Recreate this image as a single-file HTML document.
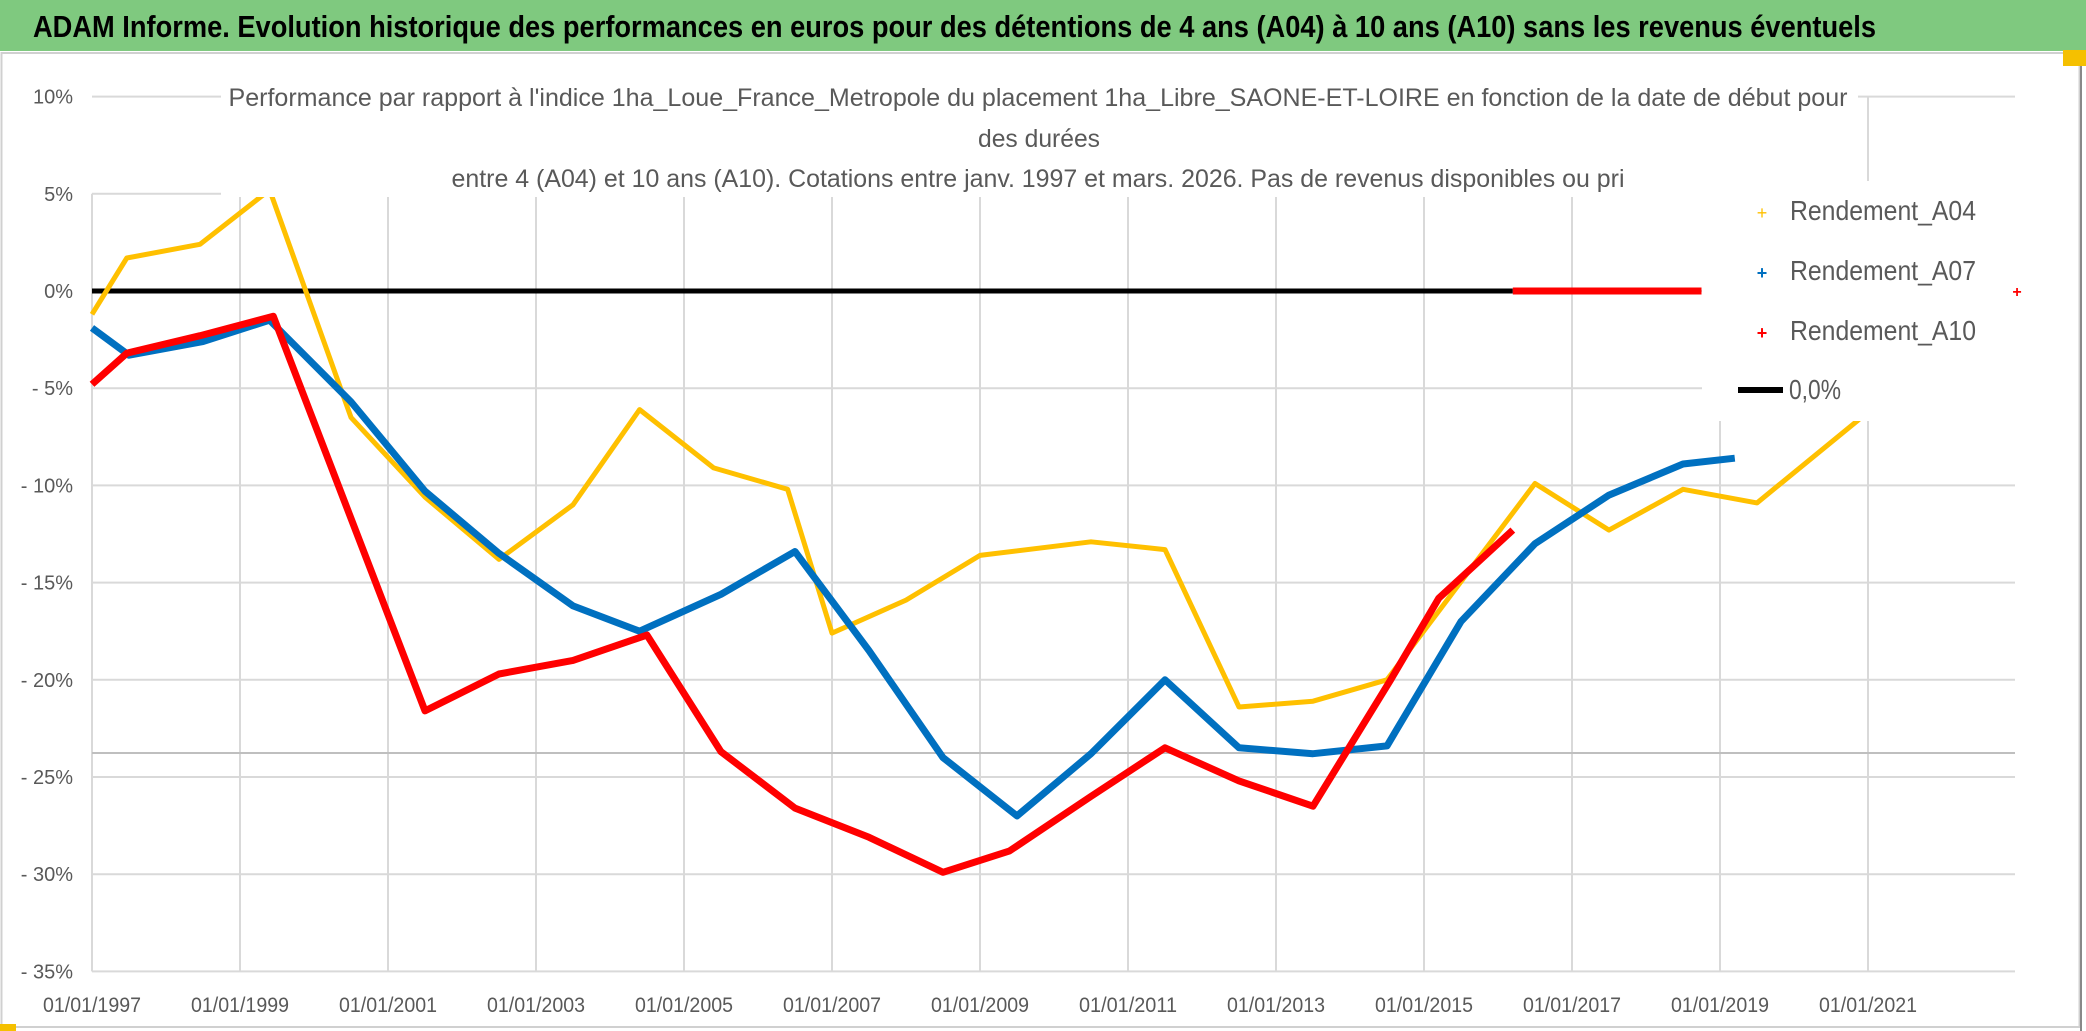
<!DOCTYPE html>
<html><head><meta charset="utf-8"><style>
html,body{margin:0;padding:0;background:#fff;width:2086px;height:1031px;overflow:hidden}
svg{display:block;font-family:"Liberation Sans",sans-serif}
</style></head><body>
<svg id="chart" width="2086" height="1031" viewBox="0 0 2086 1031">
<rect x="0" y="0" width="2086" height="51" fill="#7fc97f"/>
<text x="33" y="37" font-size="31" font-weight="bold" fill="#000" textLength="1843" lengthAdjust="spacingAndGlyphs">ADAM Informe. Evolution historique des performances en euros pour des détentions de 4 ans (A04) à 10 ans (A10) sans les revenus éventuels</text>
<rect x="1.5" y="53" width="2078" height="974" fill="none" stroke="#d0d0d0" stroke-width="2"/>
<line x1="2081" y1="52" x2="2081" y2="1031" stroke="#888" stroke-width="2"/>
<rect x="2063" y="50" width="23" height="16" fill="#f5c000"/>
<rect x="0" y="1024" width="16" height="7" fill="#f5c000"/>
<g id="grid"></g>
<line x1="92" y1="753" x2="2015" y2="753" stroke="#bfbfbf" stroke-width="2"/>
<g id="ylabels" font-size="20" fill="#595959" text-anchor="end"></g>
<g id="xlabels" font-size="21" fill="#595959" text-anchor="middle"></g>
<g id="series"></g>
<rect x="221" y="80" width="1637" height="117" fill="#fff"/>
<g font-size="25" fill="#595959" text-anchor="middle">
<text x="1038" y="106" textLength="1619" lengthAdjust="spacingAndGlyphs">Performance par rapport à l'indice 1ha_Loue_France_Metropole  du placement 1ha_Libre_SAONE-ET-LOIRE en fonction de la date de début pour</text>
<text x="1039" y="147" textLength="122" lengthAdjust="spacingAndGlyphs">des durées</text>
<text x="1038" y="187" textLength="1173" lengthAdjust="spacingAndGlyphs">entre 4 (A04) et 10 ans (A10). Cotations entre janv. 1997 et mars. 2026. Pas de revenus disponibles ou pri</text>
</g>
<rect x="1702" y="181" width="313" height="240" fill="#fff"/>
<g font-size="28" fill="#595959">
<g><text x="1762" y="219" fill="#ffc000" font-size="18" text-anchor="middle">+</text><text x="1790" y="220" textLength="186" lengthAdjust="spacingAndGlyphs">Rendement_A04</text></g>
<g><text x="1762" y="279" fill="#0070c0" font-size="18" text-anchor="middle" font-weight="bold">+</text><text x="1790" y="280" textLength="186" lengthAdjust="spacingAndGlyphs">Rendement_A07</text></g>
<g><text x="1762" y="339" fill="#ff0000" font-size="18" text-anchor="middle" font-weight="bold">+</text><text x="1790" y="340" textLength="186" lengthAdjust="spacingAndGlyphs">Rendement_A10</text></g>
<g><line x1="1738" y1="390" x2="1783" y2="390" stroke="#000" stroke-width="6"/><text x="1789" y="399" textLength="52" lengthAdjust="spacingAndGlyphs">0,0%</text></g>
</g>
<text x="2017" y="297" fill="#ff0000" font-size="16" font-weight="bold" text-anchor="middle">+</text>
</svg>
<script>
const yTicks=[10,5,0,-5,-10,-15,-20,-25,-30,-35];
const yTickLabels=["10%","5%","0%","- 5%","- 10%","- 15%","- 20%","- 25%","- 30%","- 35%"];
const xTickYears=[1997,1999,2001,2003,2005,2007,2009,2011,2013,2015,2017,2019,2021];
const xTickLabels=["01/01/1997","01/01/1999","01/01/2001","01/01/2003","01/01/2005","01/01/2007","01/01/2009","01/01/2011","01/01/2013","01/01/2015","01/01/2017","01/01/2019","01/01/2021"];
const a04Years=[1997.0,1997.47,1998.46,1999.4,2000.5,2001.5,2002.5,2003.5,2004.4,2005.4,2006.4,2007.0,2008.0,2009.0,2010.5,2011.5,2012.5,2013.5,2014.5,2016.5,2017.5,2018.5,2019.5,2020.85,2021.5];
const a04Values=[-1.2,1.7,2.4,5.2,-6.5,-10.6,-13.8,-11,-6.1,-9.1,-10.2,-17.6,-15.9,-13.6,-12.9,-13.3,-21.4,-21.1,-20,-9.9,-12.3,-10.2,-10.9,-6.7,-4.5];
const a07Years=[1997.0,1997.5,1998.5,1999.4,2000.5,2001.5,2002.5,2003.5,2004.4,2005.5,2006.5,2007.5,2008.5,2009.5,2010.5,2011.5,2012.5,2013.5,2014.5,2015.5,2016.5,2017.5,2018.5,2019.2];
const a07Values=[-1.9,-3.3,-2.6,-1.5,-5.7,-10.3,-13.5,-16.2,-17.5,-15.6,-13.4,-18.5,-24,-27,-23.8,-20.0,-23.5,-23.8,-23.4,-17,-13,-10.5,-8.9,-8.6];
const a10Years=[1997.0,1997.47,1998.46,1999.45,2001.5,2002.5,2003.5,2004.5,2005.5,2006.5,2007.5,2008.5,2009.4,2010.5,2011.5,2012.5,2013.5,2014.55,2015.2,2016.2];
const a10Values=[-4.8,-3.2,-2.3,-1.3,-21.6,-19.7,-19,-17.7,-23.7,-26.6,-28.1,-29.9,-28.8,-26,-23.5,-25.2,-26.5,-20,-15.8,-12.3];
const a10ZeroYears=[2016.2,2018.75];
const a10ZeroValues=[0,0];
const zeroYears=[1997,2016.2];
const zeroValues=[0,0];

const X0=92, PX_PER_YEAR=74, Y0=291, PX_PER_PCT=19.44;
function xs(yr){return X0+(yr-1997)*PX_PER_YEAR;}
function ys(v){return Y0-v*PX_PER_PCT;}
const NS="http://www.w3.org/2000/svg";
function mk(tag,attrs,parent){const e=document.createElementNS(NS,tag);for(const k in attrs)e.setAttribute(k,attrs[k]);parent.appendChild(e);return e;}
const grid=document.getElementById('grid');
yTicks.forEach((t,i)=>{
  const l=mk('line',{x1:X0,x2:2015,y1:ys(t),y2:ys(t),stroke:'#d9d9d9','stroke-width':2},grid);
  
  
  const tx=mk('text',{x:73,y:ys(t)+7},document.getElementById('ylabels'));
  tx.textContent=yTickLabels[i];
  
  
});
mk('line',{x1:X0,x2:X0,y1:ys(5),y2:ys(-35),stroke:'#d9d9d9','stroke-width':2},grid);
xTickYears.forEach((yr,i)=>{
  if(i>0){const l=mk('line',{x1:xs(yr),x2:xs(yr),y1:ys(10),y2:ys(-35),stroke:'#d9d9d9','stroke-width':2},grid);
  
  }
  const tx=mk('text',{x:xs(yr),y:1012,textLength:98,lengthAdjust:'spacingAndGlyphs'},document.getElementById('xlabels'));
  tx.textContent=xTickLabels[i];
  
  
});
const series=document.getElementById('series');
function line(years,vals,color,w,name){
  const pts=years.map((y,i)=>xs(y).toFixed(1)+','+ys(vals[i]).toFixed(1)).join(' ');
  const p=mk('polyline',{points:pts,fill:'none',stroke:color,'stroke-width':w,'stroke-linejoin':'round'},series);
  
  
}
line(zeroYears,zeroValues,'#000',5,'zero-line');
line(a10ZeroYears,a10ZeroValues,'#ff0000',7,'series-a10-zero');
line(a04Years,a04Values,'#ffc000',5,'series-a04');
line(a07Years,a07Values,'#0070c0',7,'series-a07');
line(a10Years,a10Values,'#ff0000',7,'series-a10');
</script>
</body></html>
